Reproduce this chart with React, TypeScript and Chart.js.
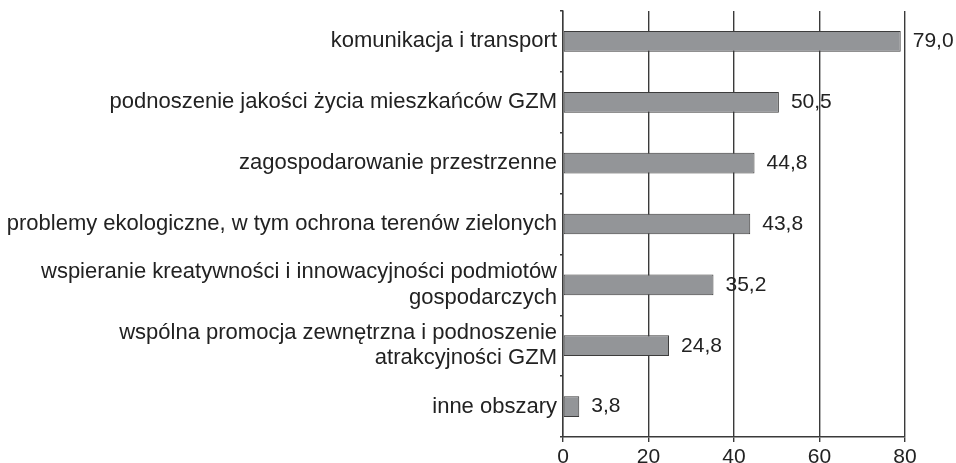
import React, { useEffect, useRef } from "react";
import { Chart, registerables } from "chart.js";

Chart.register(...registerables);

const categories: (string | string[])[] = [
  "komunikacja i transport",
  "podnoszenie jakości życia mieszkańców GZM",
  "zagospodarowanie przestrzenne",
  "problemy ekologiczne, w tym ochrona terenów zielonych",
  ["wspieranie kreatywności i innowacyjności podmiotów", "gospodarczych"],
  ["wspólna promocja zewnętrzna i podnoszenie", "atrakcyjności GZM"],
  "inne obszary",
];

const values: number[] = [79.0, 50.5, 44.8, 43.8, 35.2, 24.8, 3.8];

const xTicks: number[] = [0, 20, 40, 60, 80];

const FONT = "'Liberation Sans', Arial, Helvetica, sans-serif";
const TEXT = "#222222";
const LINE = "#3a3a3a";

const valueLabels = {
  id: "valueLabels",
  afterDatasetsDraw(chart: any) {
    const ctx = chart.ctx;
    const meta = chart.getDatasetMeta(0);
    ctx.save();
    ctx.font = `21px ${FONT}`;
    ctx.fillStyle = TEXT;
    ctx.textAlign = "left";
    ctx.textBaseline = "middle";
    meta.data.forEach((bar: any, i: number) => {
      const v = values[i];
      ctx.fillText(v.toFixed(1).replace(".", ","), bar.x + 12, bar.y);
    });
    ctx.restore();
  },
};

export default function App() {
  const ref = useRef<HTMLCanvasElement | null>(null);
  useEffect(() => {
    if (!ref.current) return;
    const chart = new Chart(ref.current, {
      type: "bar",
      data: {
        labels: categories,
        datasets: [
          {
            data: values,
            backgroundColor: "#939598",
            borderColor: "#3c3c3c",
            borderWidth: 1,
            borderSkipped: false,
            barPercentage: 0.34,
            categoryPercentage: 1,
          },
        ],
      },
      options: {
        indexAxis: "y",
        animation: false,
        responsive: false,
        maintainAspectRatio: false,
        layout: { padding: { top: 11, right: 51, left: 0, bottom: 0 } },
        plugins: {
          legend: { display: false },
          tooltip: { enabled: false },
        },
        scales: {
          x: {
            min: 0,
            max: 80,
            afterBuildTicks: (scale: any) => {
              scale.ticks = xTicks.map((v) => ({ value: v }));
            },
            afterFit: (scale: any) => {
              scale.height = 26;
              scale.paddingLeft = 0;
              scale.paddingRight = 0;
            },
            grid: {
              color: LINE,
              lineWidth: 1.4,
              tickLength: 5,
              drawOnChartArea: true,
              drawTicks: true,
            },
            border: { display: true, color: LINE, width: 1.4 },
            ticks: {
              color: TEXT,
              font: { family: FONT, size: 21 },
              padding: 3,
              maxRotation: 0,
            },
          },
          y: {
            afterFit: (scale: any) => {
              scale.width = 563;
              scale.paddingTop = 0;
              scale.paddingBottom = 0;
            },
            grid: {
              offset: true,
              drawOnChartArea: false,
              color: LINE,
              lineWidth: 1.4,
              tickLength: 3,
            },
            border: { display: true, color: LINE, width: 1.4 },
            ticks: {
              color: TEXT,
              font: { family: FONT, size: 22, lineHeight: 1.15 },
              padding: 3,
              autoSkip: false,
            },
          },
        },
      },
      plugins: [valueLabels],
    });
    return () => chart.destroy();
  }, []);
  return (
    <div style={{ position: "fixed", left: 0, top: 0, width: 956, height: 463, background: "#fff" }}>
      <canvas ref={ref} width={956} height={463} style={{ display: "block", width: 956, height: 463 }} />
    </div>
  );
}
